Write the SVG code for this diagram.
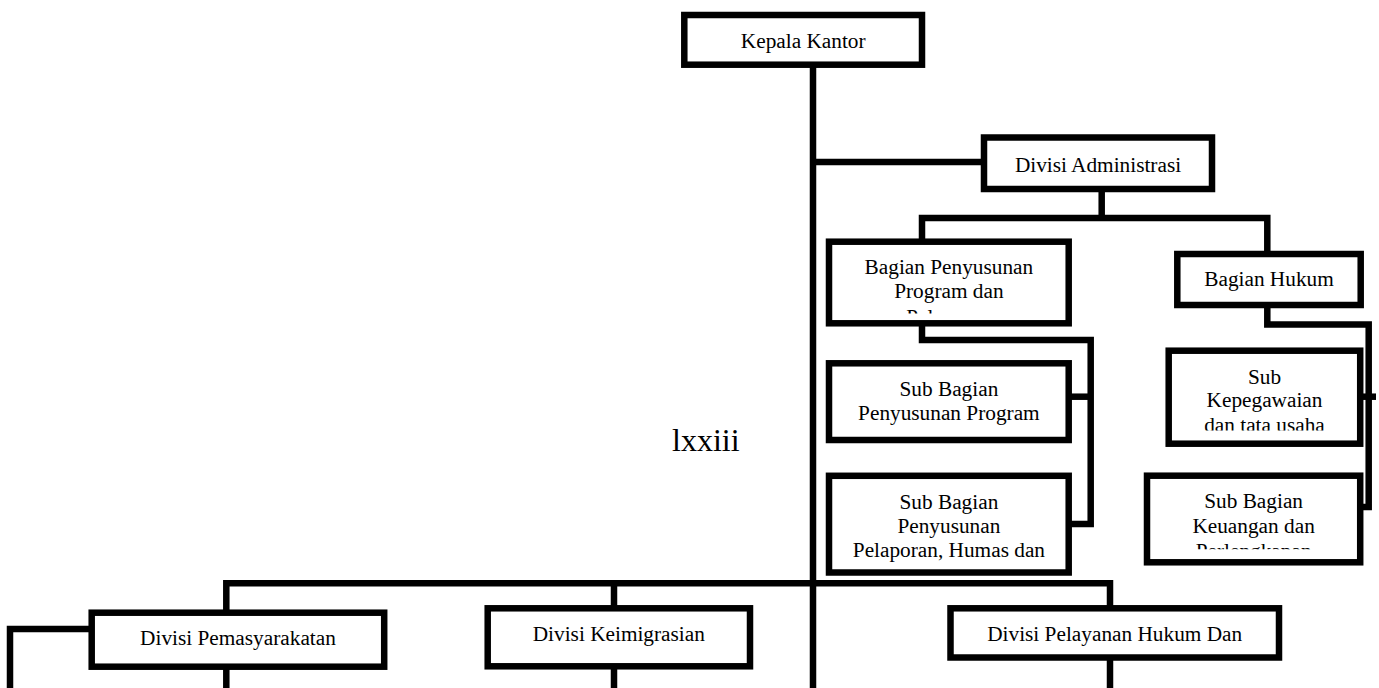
<svg xmlns="http://www.w3.org/2000/svg" width="1379" height="688" viewBox="0 0 1379 688">
<style>
.box{fill:#fff;stroke:#000;stroke-width:6.5}
.conn{fill:none;stroke:#000;stroke-width:6.5;stroke-linejoin:miter;stroke-linecap:butt}
.lbl{font-family:"Liberation Serif","Times New Roman",serif;font-size:21.3px;text-anchor:middle;fill:#000}
.pg{font-family:"Liberation Serif","Times New Roman",serif;font-size:32px;fill:#000}
</style>
<defs>
<clipPath id="clip-bp"><rect x="832" y="245" width="234" height="68.5"/></clipPath>
<clipPath id="clip-kep"><rect x="1171.7" y="354" width="185.6" height="76.5"/></clipPath>
<clipPath id="clip-keu"><rect x="1150" y="479" width="207" height="70.3"/></clipPath>
</defs>
<rect width="1379" height="688" fill="#fff"/>
<g id="connectors">
<path class="conn" d="M813 64.7V688"/>
<path class="conn" d="M813 162H984"/>
<path class="conn" d="M1101.7 189V218"/>
<path class="conn" d="M922 241.7V218H1267.3V254"/>
<path class="conn" d="M922 323.3V340H1090.7V524H1068.7"/>
<path class="conn" d="M1068.7 396.7H1090.7"/>
<path class="conn" d="M1267.3 305V324.5H1368.7V507H1360.2"/>
<path class="conn" d="M1360.2 396.7H1376"/>
<path class="conn" d="M226.3 612.7V583.3H1110V608.3"/>
<path class="conn" d="M614 583.3V608.3"/>
<path class="conn" d="M226.3 666.7V688"/>
<path class="conn" d="M614 666.3V688"/>
<path class="conn" d="M1110 657.5V688"/>
<path class="conn" d="M91.7 629H10V688"/>
</g>
<g id="kepala-kantor">
<rect class="box" x="684.3" y="15" width="237.7" height="49.7"/>
<text class="lbl" x="803.2" y="48">Kepala Kantor</text>
</g>
<g id="divisi-administrasi">
<rect class="box" x="984" y="137.5" width="228" height="51.5"/>
<text class="lbl" x="1098" y="171.7">Divisi Administrasi</text>
</g>
<g id="bagian-penyusunan">
<rect class="box" x="829" y="241.7" width="239.7" height="81.6"/>
<g clip-path="url(#clip-bp)">
<text class="lbl" x="948.9" y="274.3">Bagian Penyusunan</text>
<text class="lbl" x="948.9" y="298.3">Program dan</text>
<text class="lbl" x="948.9" y="323.5">Pelaporan</text>
</g>
</g>
<g id="sub-penyusunan-program">
<rect class="box" x="829" y="363.3" width="239.7" height="76.7"/>
<text class="lbl" x="948.9" y="395.7">Sub Bagian</text>
<text class="lbl" x="948.9" y="420">Penyusunan Program</text>
</g>
<g id="sub-pelaporan">
<rect class="box" x="829" y="475.8" width="239.7" height="96.7"/>
<text class="lbl" x="948.9" y="508.5">Sub Bagian</text>
<text class="lbl" x="948.9" y="532.7">Penyusunan</text>
<text class="lbl" x="948.9" y="556.7">Pelaporan, Humas dan</text>
</g>
<g id="bagian-hukum">
<rect class="box" x="1177.3" y="254" width="183.4" height="51"/>
<text class="lbl" x="1269" y="285.7">Bagian Hukum</text>
</g>
<g id="sub-kepegawaian">
<rect class="box" x="1168.7" y="350.7" width="191.5" height="93"/>
<g clip-path="url(#clip-kep)">
<text class="lbl" x="1264.5" y="383.5">Sub</text>
<text class="lbl" x="1264.5" y="407.3">Kepegawaian</text>
<text class="lbl" x="1264.5" y="432">dan tata usaha</text>
</g>
</g>
<g id="sub-keuangan">
<rect class="box" x="1147" y="475.7" width="213.2" height="86.6"/>
<g clip-path="url(#clip-keu)">
<text class="lbl" x="1253.6" y="508.3">Sub Bagian</text>
<text class="lbl" x="1253.6" y="533.2">Keuangan dan</text>
<text class="lbl" x="1253.6" y="557.5">Perlengkapan</text>
</g>
</g>
<g id="divisi-pemasyarakatan">
<rect class="box" x="91.7" y="612.7" width="292.5" height="54"/>
<text class="lbl" x="238" y="645">Divisi Pemasyarakatan</text>
</g>
<g id="divisi-keimigrasian">
<rect class="box" x="487.7" y="608.3" width="262.3" height="58"/>
<text class="lbl" x="618.8" y="641">Divisi Keimigrasian</text>
</g>
<g id="divisi-pelayanan-hukum">
<rect class="box" x="950.5" y="608.3" width="328.5" height="49.2"/>
<text class="lbl" x="1114.7" y="641">Divisi Pelayanan Hukum Dan</text>
</g>
<text class="pg" x="672" y="451">lxxiii</text>
</svg>
